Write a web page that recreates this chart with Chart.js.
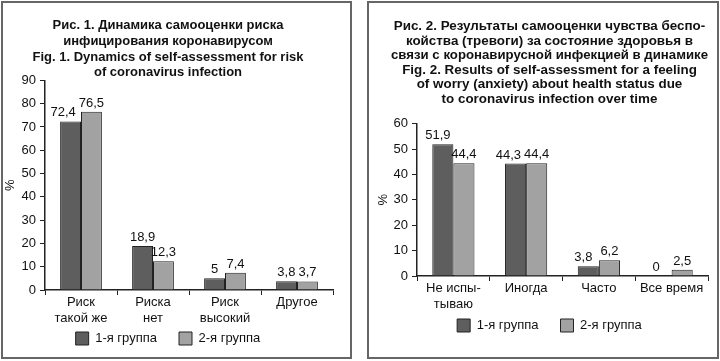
<!DOCTYPE html>
<html>
<head>
<meta charset="utf-8">
<script src="https://cdn.jsdelivr.net/npm/chart.js@4"></script>
<style>
  body { margin: 0; background: #fff; }
  .box { position: absolute; top: 1px; border: 2px solid #666; background: #fff; }
  #box1 { left: 1px; width: 347px; height: 354px; }
  #box2 { left: 367px; width: 348px; height: 354px; }
</style>
</head>
<body>
<div class="box" id="box1"><canvas id="riskChart" width="347" height="354"></canvas></div>
<div class="box" id="box2"><canvas id="worryChart" width="348" height="354"></canvas></div>
<script>
// Fig. 1 data
var riskLabels = [['Риск', 'такой же'], ['Риска', 'нет'], ['Риск', 'высокий'], 'Другое'];
var riskGroup1 = [72.4, 18.9, 5, 3.8];
var riskGroup2 = [76.5, 12.3, 7.4, 3.7];

// Fig. 2 data
var worryLabels = [['Не испы-', 'тываю'], 'Иногда', 'Часто', 'Все время'];
var worryGroup1 = [51.9, 44.3, 3.8, 0];
var worryGroup2 = [44.4, 44.4, 6.2, 2.5];

var groupNames = ['1-я группа', '2-я группа'];

Chart.defaults.font.family = '"Liberation Sans", Arial, sans-serif';
Chart.defaults.font.size = 13;
Chart.defaults.color = '#111';

function fmt(v) {
  return String(v).replace('.', ',');
}

// draws the value over each bar, with a comma as decimal mark;
// the first group's label moves left when it would run into the second one
var valueLabels = {
  id: 'valueLabels',
  afterDatasetsDraw: function(chart, args, opts) {
    var ctx = chart.ctx;
    var ds = chart.data.datasets;
    var bars1 = chart.getDatasetMeta(0).data;
    var bars2 = chart.getDatasetMeta(1).data;
    ctx.save();
    ctx.font = '13px "Liberation Sans", Arial, sans-serif';
    ctx.fillStyle = '#111';
    ctx.textAlign = 'center';
    ctx.textBaseline = 'bottom';
    bars1.forEach(function(b1, j) {
      var b2 = bars2[j];
      var t1 = fmt(ds[0].data[j]), t2 = fmt(ds[1].data[j]);
      var w1 = ctx.measureText(t1).width, w2 = ctx.measureText(t2).width;
      var x1 = b1.x + (opts.shift || 0);
      if (Math.abs(b1.y - b2.y) < 14) {
        var overlap = (x1 + w1 / 2 + 3) - (b2.x - w2 / 2);
        if (overlap > 0) x1 -= overlap;
      }
      ctx.fillText(t1, x1, b1.y - 2);
      ctx.fillText(t2, b2.x, b2.y - 2);
    });
    ctx.restore();
  }
};

// x axis box is kept short so the legend sits close; let its two-line labels run past it
var longLabels = {
  id: 'longLabels',
  afterLayout: function(chart) {
    chart.scales.x.bottom = chart.height;
  }
};

// cfg: title lines, sizes and paddings of one panel
function makeChart(id, labels, d1, d2, cfg) {
  return new Chart(document.getElementById(id), {
    type: 'bar',
    data: {
      labels: labels,
      datasets: [{
        label: groupNames[0],
        data: d1,
        backgroundColor: '#5e5e5e',
        borderColor: '#222',
        borderWidth: 1,
        categoryPercentage: 0.58,
        barPercentage: 1
      }, {
        label: groupNames[1],
        data: d2,
        backgroundColor: '#a2a2a2',
        borderColor: '#222',
        borderWidth: 1,
        categoryPercentage: 0.58,
        barPercentage: 1
      }]
    },
    options: {
      responsive: false,
      animation: false,
      layout: { padding: { left: cfg.padLeft, right: cfg.padRight, top: 0, bottom: cfg.padBottom } },
      plugins: {
        title: {
          display: true,
          text: cfg.title,
          color: '#111',
          font: { size: cfg.titleSize, weight: 'bold', lineHeight: cfg.titleLine },
          padding: { top: cfg.titleTop, bottom: cfg.titleBottom }
        },
        legend: {
          position: 'bottom',
          labels: { boxWidth: 13, boxHeight: 13, padding: 22, color: '#111' }
        },
        tooltip: { enabled: false },
        valueLabels: { shift: cfg.labelShift }
      },
      scales: {
        x: {
          grid: { drawOnChartArea: false, tickLength: 5, color: '#222' },
          border: { color: '#222', width: 1.5 },
          ticks: { color: '#111', padding: 0, maxRotation: 0 },
          afterFit: function(scale) { scale.height = cfg.xHeight; }
        },
        y: {
          min: 0,
          max: cfg.yMax,
          ticks: { stepSize: 10, color: '#111', padding: 4 },
          grid: { drawOnChartArea: false, tickLength: 5, color: '#222' },
          border: { color: '#222', width: 1.5 },
          title: { display: true, text: '%', color: '#111', padding: { top: cfg.pctShift, bottom: 0 } },
          afterFit: function(scale) { scale.width = cfg.yWidth; }
        }
      }
    },
    plugins: [valueLabels, longLabels]
  });
}

makeChart('riskChart', riskLabels, riskGroup1, riskGroup2, {
  title: [
    'Рис. 1. Динамика самооценки риска',
    'инфицирования коронавирусом',
    'Fig. 1. Dynamics of self-assessment for risk',
    'of coronavirus infection'
  ],
  titleSize: 13, titleLine: 1.2, titleTop: 15, titleBottom: 0,
  yMax: 90, yWidth: 42, xHeight: 20,
  padLeft: 0, padRight: 17, padBottom: 2, pctShift: 0, labelShift: 0
});

makeChart('worryChart', worryLabels, worryGroup1, worryGroup2, {
  title: [
    'Рис. 2. Результаты самооценки чувства беспо-',
    'койства (тревоги) за состояние здоровья в',
    'связи с коронавирусной инфекцией в динамике',
    'Fig. 2. Results of self-assessment for a feeling',
    'of worry (anxiety) about health status due',
    'to coronavirus infection over time'
  ],
  titleSize: 13.4, titleLine: 1.09, titleTop: 16, titleBottom: 17,
  yMax: 60, yWidth: 26, xHeight: 21,
  padLeft: 22, padRight: 9, padBottom: 15, pctShift: -15, labelShift: -5
});
</script>
</body>
</html>
